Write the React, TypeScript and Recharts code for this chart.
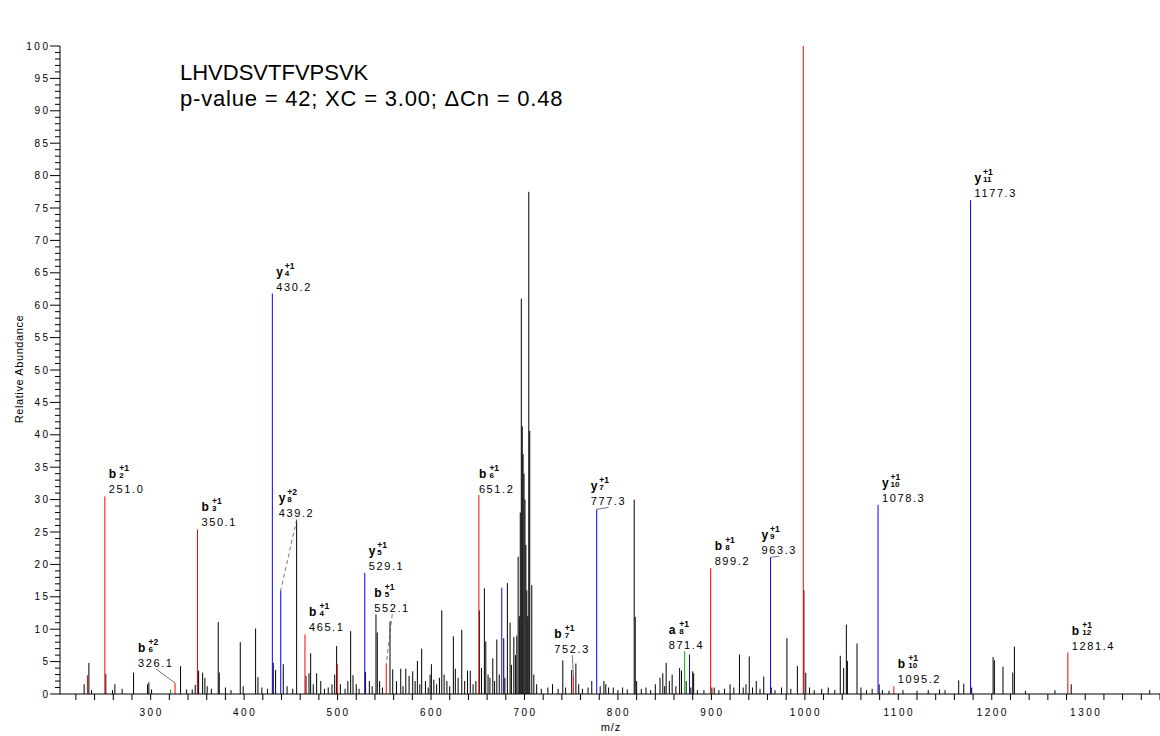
import React from 'react';
import { ComposedChart, Scatter, XAxis, YAxis, ErrorBar } from 'recharts';

const title = 'LHVDSVTFVPSVK';
const scoreLine = 'p-value = 42; XC = 3.00; ΔCn = 0.48';

// unassigned peaks: [m/z, relative abundance]
const otherPeaks: [number, number][] = [
  [228.8, 1.5], [233.9, 4.8], [236.8, 0.6], [252.0, 3.1], [259.2, 0.6], [261.7, 1.5], [269.5, 0.8],
  [281.7, 3.3], [296.7, 1.5], [298.1, 1.8], [301.0, 0.7], [332.0, 4.3], [338.5, 0.7], [344.5, 0.7],
  [347.7, 1.4], [351.3, 3.6], [355.6, 3.3], [358.0, 2.5], [360.5, 1.2], [365.0, 0.8], [372.3, 11.1],
  [373.4, 3.3], [380.0, 1.0], [386.0, 0.6], [395.9, 8.0], [399.0, 1.2], [412.3, 10.1], [414.8, 2.6],
  [419.0, 1.0], [425.0, 0.8], [431.2, 4.8], [433.7, 3.7], [441.9, 4.6], [446.0, 1.2], [452.0, 0.8],
  [456.2, 26.8], [466.2, 2.8], [469.4, 3.2], [471.2, 6.3], [474.0, 1.5], [477.6, 3.2], [482.0, 2.0],
  [486.0, 0.8], [490.0, 1.0], [494.0, 1.5], [496.9, 3.0], [499.0, 7.4], [503.0, 1.5], [508.0, 0.8],
  [511.0, 2.0], [514.0, 9.7], [516.5, 2.9], [520.0, 1.5], [523.0, 0.8], [529.8, 3.4], [534.0, 2.0],
  [537.0, 1.2], [541.1, 12.3], [542.5, 9.5], [545.0, 2.0], [548.0, 1.0], [556.1, 11.2], [559.0, 3.8],
  [563.0, 2.0], [567.6, 3.9], [570.0, 1.2], [573.0, 3.9], [576.5, 2.8], [580.4, 3.5], [583.0, 2.0],
  [585.4, 5.1], [588.0, 1.5], [590.0, 7.0], [594.0, 2.0], [597.0, 1.0], [599.0, 3.0], [600.4, 4.6],
  [603.0, 2.2], [606.0, 1.5], [609.0, 2.5], [611.5, 12.9], [614.0, 3.0], [617.0, 2.0], [620.0, 1.2],
  [623.9, 8.9], [626.0, 3.9], [629.0, 2.5], [632.9, 9.9], [636.0, 2.0], [639.0, 3.6], [642.0, 3.6],
  [645.0, 1.5], [648.0, 2.0], [651.7, 12.9], [654.0, 4.0], [657.1, 16.3], [658.6, 8.1], [661.0, 3.0],
  [663.0, 2.5], [666.1, 5.5], [668.0, 2.0], [670.4, 8.4], [673.0, 3.0], [677.8, 8.6], [679.0, 2.5],
  [681.7, 17.1], [684.6, 11.0], [686.0, 4.5], [688.6, 8.8], [690.3, 6.0], [691.8, 9.0], [693.2, 21.2],
  [694.5, 12.0], [695.5, 28.0], [696.6, 61.0], [697.6, 41.3], [698.5, 37.0], [699.5, 34.0],
  [700.5, 30.0], [701.5, 23.0], [702.5, 16.0], [703.5, 12.0], [704.6, 77.5], [705.6, 40.6],
  [707.8, 16.8], [710.0, 3.0], [713.0, 1.5], [718.0, 0.8], [725.0, 1.0], [730.0, 1.5], [736.0, 0.8],
  [741.0, 5.2], [744.0, 1.0], [750.5, 3.7], [755.0, 4.7], [758.0, 1.5], [762.0, 0.8], [768.0, 1.0],
  [772.0, 2.0], [781.0, 1.2], [785.0, 2.0], [787.0, 1.5], [790.0, 1.0], [795.0, 1.0], [800.0, 0.6],
  [805.0, 1.0], [810.0, 0.7], [817.4, 30.0], [818.5, 11.9], [820.0, 2.0], [825.0, 0.8], [830.0, 1.0],
  [835.0, 0.6], [840.0, 1.5], [845.0, 2.5], [848.0, 3.2], [850.0, 1.2], [851.6, 4.8], [855.0, 2.0],
  [858.0, 3.0], [862.0, 1.2], [866.0, 4.0], [868.0, 3.6], [873.0, 2.0], [878.0, 1.0], [880.0, 3.5],
  [881.0, 3.2], [885.0, 0.6], [892.0, 0.6], [900.5, 1.0], [903.0, 1.0], [908.0, 0.6], [914.0, 0.8],
  [920.0, 1.5], [924.0, 1.0], [930.0, 6.1], [934.0, 1.0], [937.0, 1.5], [940.5, 5.8], [944.0, 1.0],
  [948.0, 2.0], [952.0, 0.8], [956.0, 2.7], [964.0, 1.0], [968.0, 0.6], [975.0, 1.0], [980.8, 8.6],
  [985.0, 0.8], [992.0, 4.3], [999.0, 16.0], [1001.0, 3.3], [1005.0, 1.0], [1010.0, 0.6], [1018.0, 0.8],
  [1025.0, 1.0], [1032.0, 0.6], [1037.9, 5.9], [1041.5, 4.0], [1044.4, 10.7], [1045.5, 5.1],
  [1055.8, 7.8], [1060.0, 1.0], [1066.0, 0.6], [1072.0, 0.8], [1079.5, 1.5], [1083.0, 0.6],
  [1090.0, 0.5], [1105.0, 0.6], [1120.0, 0.5], [1132.0, 0.6], [1144.0, 0.7], [1150.0, 0.6],
  [1164.6, 2.1], [1170.0, 1.6], [1178.5, 1.0], [1201.4, 5.7], [1202.8, 5.2], [1212.0, 4.2],
  [1222.5, 3.3], [1224.2, 7.3], [1236.0, 0.5], [1267.6, 0.6], [1285.0, 1.5], [1369.0, 0.6],
];

// unlabelled matched peaks
const redPeaks: [number, number][] = [[232.5, 2.9], [499.7, 4.6]];
const bluePeaks: [number, number][] = [[675.7, 16.4], [876.6, 6.1]];
const greenPeaks: [number, number][] = [[321.3, 0.7]];

// annotated fragment ions
const ions = [
  { ion: 'b', pos: 2, z: 1, mz: 251.0, int: 30.5 },
  { ion: 'b', pos: 6, z: 2, mz: 326.1, int: 1.7 },
  { ion: 'b', pos: 3, z: 1, mz: 350.1, int: 25.4 },
  { ion: 'y', pos: 4, z: 1, mz: 430.2, int: 61.8 },
  { ion: 'y', pos: 8, z: 2, mz: 439.2, int: 16.0 },
  { ion: 'b', pos: 4, z: 1, mz: 465.1, int: 9.2 },
  { ion: 'y', pos: 5, z: 1, mz: 529.1, int: 18.7 },
  { ion: 'b', pos: 5, z: 1, mz: 552.1, int: 4.6 },
  { ion: 'b', pos: 6, z: 1, mz: 651.2, int: 30.7 },
  { ion: 'b', pos: 7, z: 1, mz: 752.3, int: 2.9 },
  { ion: 'y', pos: 7, z: 1, mz: 777.3, int: 28.5 },
  { ion: 'a', pos: 8, z: 1, mz: 871.4, int: 6.6 },
  { ion: 'b', pos: 8, z: 1, mz: 899.2, int: 19.4 },
  { ion: 'y', pos: 9, z: 1, mz: 963.3, int: 21.1 },
  { ion: 'b', pos: 9, z: 1, mz: 998.3, int: 100 },
  { ion: 'y', pos: 10, z: 1, mz: 1078.3, int: 29.2 },
  { ion: 'b', pos: 10, z: 1, mz: 1095.2, int: 1.2 },
  { ion: 'y', pos: 11, z: 1, mz: 1177.3, int: 76.2 },
  { ion: 'b', pos: 12, z: 1, mz: 1281.4, int: 6.4 },
];

const xTicks = Array.from({ length: 59 }, (_, i) => 220 + i * 20);
const yTicks = Array.from({ length: 101 }, (_, i) => i);

const FONT = '"Liberation Sans", Arial, Helvetica, sans-serif';
const ionColor: Record<string, string> = { b: '#ff0000', y: '#0000ff', a: '#00b000' };
const letterW: Record<string, number> = { b: 10.5, y: 8.5, a: 10.5 };

// label placement for crowded annotations (pixels from the peak top)
const nudge: Record<string, { dx: number; dy: number; dash?: boolean; line?: boolean }> = {
  'b6+2': { dx: -37, dy: -16, line: true },
  'y8+2': { dx: -2, dy: -73, line: true, dash: true },
  'b5+1': { dx: -12, dy: -52, line: true, dash: true },
  'b7+1': { dx: -19, dy: -22, line: true },
  'y7+1': { dx: -6, dy: -4, line: true },
  'y9+1': { dx: -9, dy: -3, line: true },
  'a8+1': { dx: -16, dy: -2 },
  'b6+1': { dx: 0, dy: -2 },
};

const toRows = (arr: [number, number][]) => arr.map(([mz, int]) => ({ mz, int }));
const stick = (p: any) => [(p.payload ?? p).int, 0];

function IonLabel(props: any) {
  const { cx, cy, payload } = props;
  if (cx == null || cy == null || !payload) return <g />;
  const key = `${payload.ion}${payload.pos}+${payload.z}`;
  const n = nudge[key] ?? { dx: 4, dy: -3 };
  const lx = cx + n.dx;
  const by = cy + n.dy;
  const sx = lx + letterW[payload.ion];
  return (
    <g fontFamily={FONT} fill="#000">
      {n.line && (
        <line x1={lx + 18} y1={by + 2} x2={cx} y2={cy} stroke="#555" strokeWidth={0.8}
          strokeDasharray={n.dash ? '4 3' : undefined} />
      )}
      <text x={lx} y={by - 15} fontSize={12} fontWeight="bold">{payload.ion}</text>
      <text x={sx} y={by - 22} fontSize={8.5} fontWeight="bold">{`+${payload.z}`}</text>
      <text x={sx} y={by - 15} fontSize={8} fontWeight="bold">{payload.pos}</text>
      <text x={lx} y={by} fontSize={11} letterSpacing={1.6}>{payload.mz.toFixed(1)}</text>
    </g>
  );
}

function XTick(props: any) {
  const { x, y, payload } = props;
  const v = payload.value;
  return (
    <g>
      <line x1={x} y1={y} x2={x} y2={y + 6} stroke="#000" />
      {v % 100 === 0 && (
        <text x={x + 1} y={y + 22} textAnchor="middle" fontSize={10} letterSpacing={2.5} fontFamily={FONT} fill="#000">{v}</text>
      )}
    </g>
  );
}

function YTick(props: any) {
  const { x, y, payload } = props;
  const v = payload.value;
  const major = v % 5 === 0;
  return (
    <g>
      <line x1={x - (major ? 10 : 5)} y1={y} x2={x} y2={y} stroke="#000" />
      {major && (
        <text x={x - 9.5} y={y + 3.5} textAnchor="end" fontSize={10} letterSpacing={2.5} fontFamily={FONT} fill="#000">{v}</text>
      )}
    </g>
  );
}

export default function App() {
  const groups = [
    { id: 'other', rows: toRows(otherPeaks), color: '#000' },
    { id: 'green', rows: toRows(greenPeaks), color: ionColor.a },
    { id: 'red', rows: toRows(redPeaks), color: ionColor.b },
    { id: 'blue', rows: toRows(bluePeaks), color: ionColor.y },
  ];
  return (
    <div style={{ position: 'absolute', left: 0, top: 0, width: 1160, height: 736, background: '#fff' }}>
      <ComposedChart width={1160} height={736} margin={{ top: 46, right: 0, bottom: 0, left: 0 }}>
        <XAxis dataKey="mz" type="number" domain={[203, 1380]} ticks={xTicks} interval={0}
          tick={<XTick />} tickLine={false} tickSize={0} tickMargin={0} height={42}
          axisLine={{ stroke: '#000' }} allowDataOverflow />
        <YAxis dataKey="int" type="number" domain={[0, 100]} ticks={yTicks} interval={0}
          tick={<YTick />} tickLine={false} tickSize={0} tickMargin={0} width={60}
          axisLine={{ stroke: '#000' }} allowDataOverflow />
        {groups.map((g) => (
          <Scatter key={g.id} id={g.id} data={g.rows} shape={() => <g />} isAnimationActive={false}>
            <ErrorBar dataKey={stick} direction="y" width={0} stroke={g.color} strokeWidth={1} isAnimationActive={false} />
          </Scatter>
        ))}
        {['a', 'b', 'y'].map((t) => (
          <Scatter key={t} id={`ion-${t}`} data={ions.filter((d) => d.ion === t)} shape={<IonLabel />} isAnimationActive={false}>
            <ErrorBar dataKey={stick} direction="y" width={0} stroke={ionColor[t]} strokeWidth={1} isAnimationActive={false} />
          </Scatter>
        ))}
      </ComposedChart>
      <svg width={1160} height={736} style={{ position: 'absolute', left: 0, top: 0, pointerEvents: 'none' }}
        fontFamily={FONT}>
        <text x={180} y={80} fontSize={22} fill="#000">{title}</text>
        <text x={180} y={106} fontSize={22} letterSpacing={0.8} fill="#000">{scoreLine}</text>
        <text transform="translate(23,369) rotate(-90)" textAnchor="middle" fontSize={11} letterSpacing={0.6} fill="#000">Relative Abundance</text>
        <text x={611} y={731} textAnchor="middle" fontSize={11} letterSpacing={1} fill="#000">m/z</text>
      </svg>
    </div>
  );
}
